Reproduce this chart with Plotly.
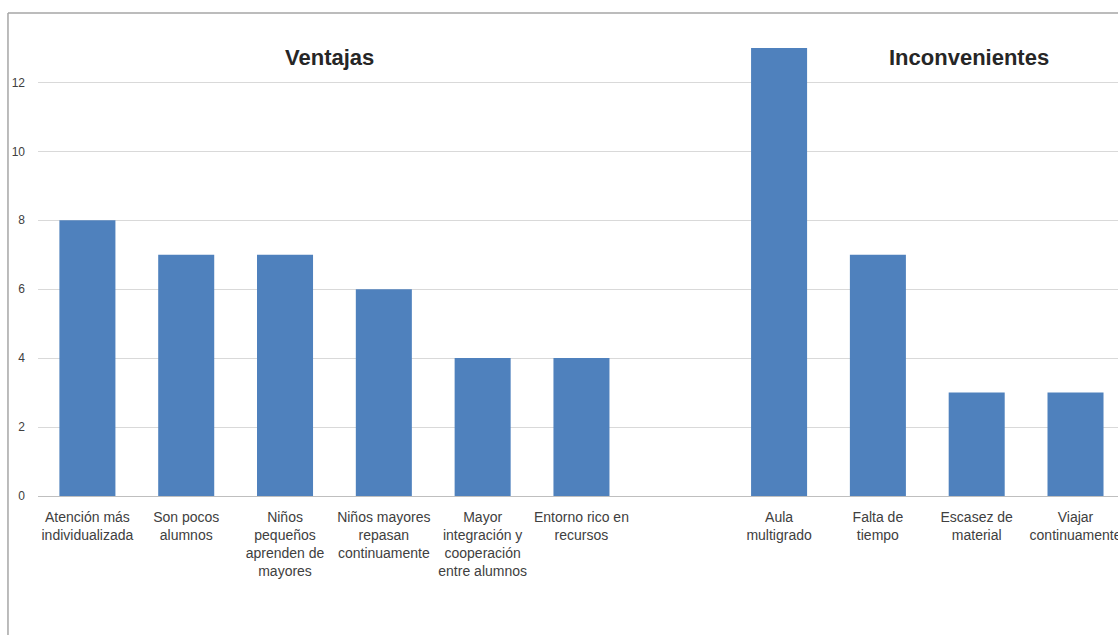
import plotly.graph_objects as go

categories = [
    "Atención más<br>individualizada",
    "Son pocos<br>alumnos",
    "Niños<br>pequeños<br>aprenden de<br>mayores",
    "Niños mayores<br>repasan<br>continuamente",
    "Mayor<br>integración y<br>cooperación<br>entre alumnos",
    "Entorno rico en<br>recursos",
    " ",
    "Aula<br>multigrado",
    "Falta de<br>tiempo",
    "Escasez de<br>material",
    "Viajar<br>continuamente",
]
values = [8, 7, 7, 6, 4, 4, None, 13, 7, 3, 3]
y_ticks = [0, 2, 4, 6, 8, 10, 12]
group_titles = ["Ventajas", "Inconvenientes"]

FONT = "Liberation Sans, Arial, sans-serif"
TEXT = "#404040"

fig = go.Figure()
fig.add_trace(go.Bar(
    x=categories, y=values,
    marker=dict(color="#4F81BD", line=dict(width=0)),
    hoverinfo="x+y",
))

fig.update_layout(
    width=1118, height=635,
    margin=dict(l=38, r=0, t=41, b=139, autoexpand=False),
    paper_bgcolor="white", plot_bgcolor="white",
    bargap=0.433,
    showlegend=False,
    font=dict(family=FONT, color=TEXT),
    xaxis=dict(
        type="category",
        range=[-0.5, 10.43],
        automargin=False,
        showgrid=False,
        showline=True, linecolor="#BFBFBF", linewidth=1,
        ticks="",
        tickfont=dict(size=14, color=TEXT),
        ticklabelstandoff=8,
        tickangle=0,
        fixedrange=True,
    ),
    yaxis=dict(
        range=[0, 13.2],
        tickvals=y_ticks,
        automargin=False,
        showgrid=True, gridcolor="#D9D9D9", gridwidth=1,
        zeroline=False,
        showline=False,
        ticks="",
        tickfont=dict(size=12, color=TEXT),
        ticklabelstandoff=12,
        fixedrange=True,
    ),
)

# outer chart border (left and top edges visible in the crop)
fig.add_shape(type="line", xref="paper", yref="paper",
              x0=-0.0278, x1=1.05, y0=1.0615, y1=1.0615,
              line=dict(color="#A6A6A6", width=1.5))
fig.add_shape(type="line", xref="paper", yref="paper",
              x0=-0.0278, x1=-0.0278, y0=1.0615, y1=-0.35,
              line=dict(color="#A6A6A6", width=1.5))

for title, xpos in zip(group_titles, [0.2699, 0.8616]):
    fig.add_annotation(text="<b>%s</b>" % title, xref="paper", yref="paper",
                       x=xpos, y=0.9648, xanchor="center", yanchor="middle",
                       showarrow=False,
                       font=dict(size=22, color="#262626", family=FONT))

fig.write_html("out.html")
